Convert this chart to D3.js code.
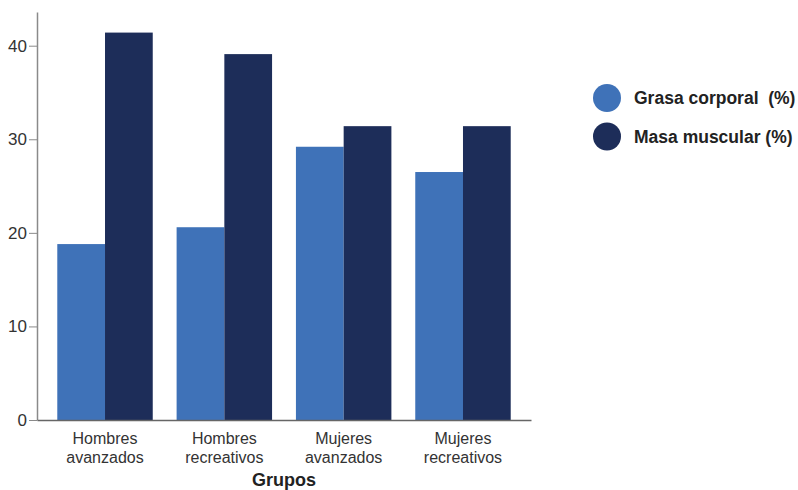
<!DOCTYPE html>
<html>
<head>
<meta charset="utf-8">
<script src="https://cdn.jsdelivr.net/npm/d3@7"></script>
<style>
  html, body { margin: 0; padding: 0; background: #fff; }
  svg { display: block; font-family: "Liberation Sans", Arial, sans-serif; }
</style>
</head>
<body>
<svg id="chart" width="798" height="490"></svg>
<script>
const categories = [["Hombres", "avanzados"], ["Hombres", "recreativos"], ["Mujeres", "avanzados"], ["Mujeres", "recreativos"]];
const seriesNames = ["Grasa corporal  (%)", "Masa muscular (%)"];
const grasa = [18.8, 20.6, 29.2, 26.5];
const masa = [41.4, 39.1, 31.4, 31.4];
const yTicks = [0, 10, 20, 30, 40];
const xTitle = "Grupos";
const colors = ["#3f72b8", "#1d2d59"];

const svg = d3.select("#chart");
const catKeys = categories.map(c => c.join(" "));
const series = [grasa, masa];

const x = d3.scaleBand().domain(catKeys).range([37, 531]).paddingInner(0.2).paddingOuter(0.17);
const xi = d3.scaleBand().domain(seriesNames).range([0, x.bandwidth()]).padding(0);
const y = d3.scaleLinear().domain([0, 43.6]).range([420, 12]);

// bars
seriesNames.forEach((s, si) => {
  svg.append("g").selectAll("rect").data(series[si]).join("rect")
    .attr("x", (d, i) => x(catKeys[i]) + xi(s))
    .attr("y", d => y(d))
    .attr("width", xi.bandwidth())
    .attr("height", d => y(0) - y(d))
    .attr("fill", colors[si]);
});

// y axis
const yAxis = svg.append("g").attr("transform", "translate(37,0)")
  .call(d3.axisLeft(y).tickValues(yTicks).tickSize(8).tickPadding(2).tickSizeOuter(0));
yAxis.select(".domain").attr("stroke", "#8a8a8a").attr("stroke-width", 1.5);
yAxis.selectAll(".tick line").attr("stroke", "#8a8a8a");
yAxis.selectAll(".tick text").attr("fill", "#333").style("font-size", "17px")
  .style("font-family", "'Liberation Sans Narrow', 'Liberation Sans', Arial, sans-serif");

// x axis
const xAxis = svg.append("g").attr("transform", "translate(0,420)")
  .call(d3.axisBottom(x).tickSize(0).tickSizeOuter(0).tickFormat(""));
xAxis.select(".domain").attr("stroke", "#666").attr("stroke-width", 1.5);
xAxis.selectAll(".tick").each(function(d, i) {
  const t = d3.select(this).append("text").attr("fill", "#333").attr("text-anchor", "middle")
    .style("font-size", "16px");
  categories[i].forEach((line, li) => {
    t.append("tspan").attr("x", 0).attr("y", 24 + li * 18.5).text(line);
  });
});

svg.append("text").attr("x", (x.range()[0] + x.range()[1]) / 2).attr("y", 486)
  .attr("text-anchor", "middle").attr("font-weight", "bold").attr("font-size", 18)
  .attr("fill", "#222").text(xTitle);

// legend
const legend = svg.append("g");
seriesNames.forEach((s, i) => {
  const cy = 98 + i * 38.5;
  legend.append("circle").attr("cx", 607).attr("cy", cy).attr("r", 14).attr("fill", colors[i]);
  legend.append("text").attr("x", 634).attr("y", cy + 6).attr("font-weight", "bold")
    .attr("font-size", 17.5).attr("fill", "#222").style("white-space", "pre").text(s);
});
</script>
</body>
</html>
